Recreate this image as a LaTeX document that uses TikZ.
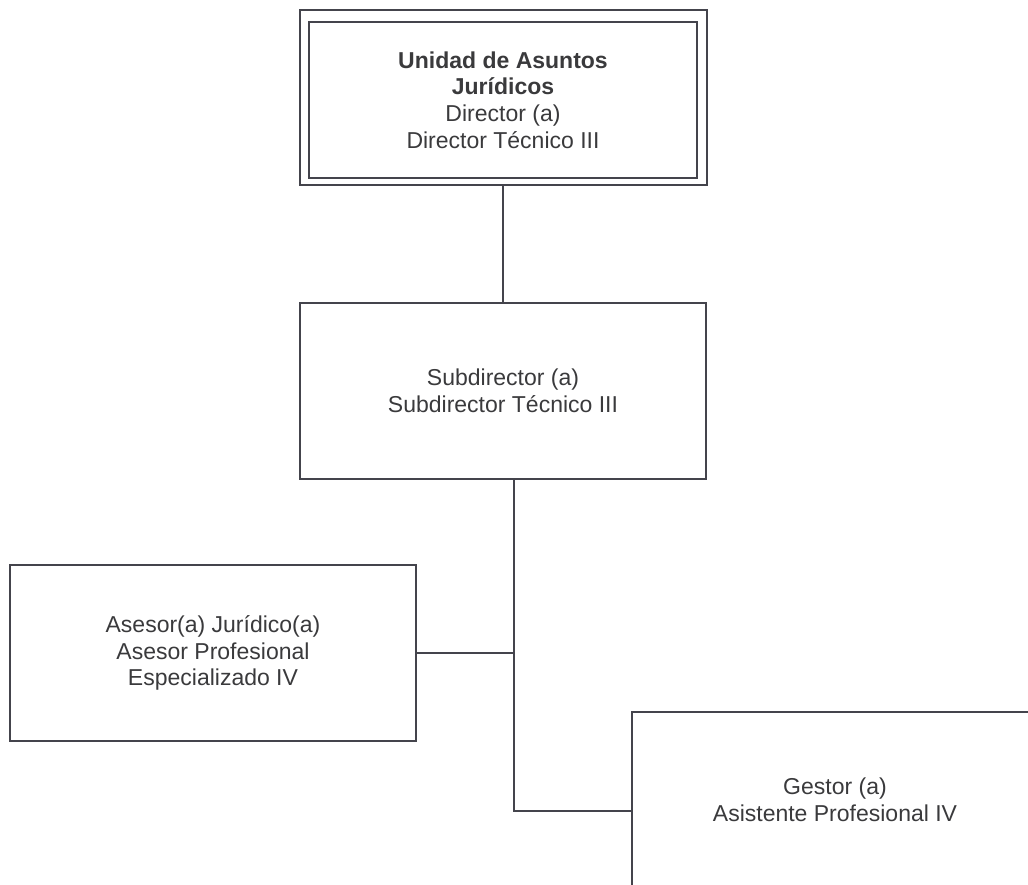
\documentclass[tikz,border=0pt]{standalone}
\usepackage{fontspec}
\setmainfont{Liberation Sans}
\usetikzlibrary{fit}
\definecolor{linegray}{RGB}{68,68,76}
\definecolor{textgray}{RGB}{58,58,60}

\begin{document}
\begin{tikzpicture}[x=1pt, y=-1pt, node distance=293pt,
    box/.style={draw=linegray, line width=2pt, text=textgray, align=center, outer sep=0pt,
        minimum width=406pt, minimum height=176pt, font=\fontsize{23}{26.8}\selectfont},
    link/.style={draw=linegray, line width=2pt}]
    \useasboundingbox (0,0) rectangle (1028,885);
    \clip (0,0) rectangle (1028,885);
    \node[box, minimum width=388pt, minimum height=156pt] (0a) at (503,100) {\textbf{Unidad de Asuntos}\\ \textbf{Jurídicos}\\ Director (a)\\ Director Técnico III};
    \node[draw=linegray, line width=2pt, outer sep=0pt, inner sep=9.5pt, fit={([yshift=2pt]0a.north west) ([yshift=2pt]0a.south east)}] (0) {};
    \node[box, below of=0, node distance=293pt] (1) {Subdirector (a)\\ Subdirector Técnico III};
    \node[box, below of=1, node distance=262pt, xshift=-290pt] (2) {Asesor(a) Jurídico(a)\\ Asesor Profesional\\ Especializado IV};
    \node[box, below of=1, node distance=409pt, xshift=332pt] (3) {Gestor (a)\\ Asistente Profesional IV};
    \coordinate (4) at ([xshift=11pt]1.south);
    \coordinate (5) at ([yshift=-11pt]3.west);
    \draw[link] (0) -- (1);
    \draw[link] (4) |- (5);
    \draw[link] (2.east) -- (2.east -| 4);
\end{tikzpicture}
\end{document}
